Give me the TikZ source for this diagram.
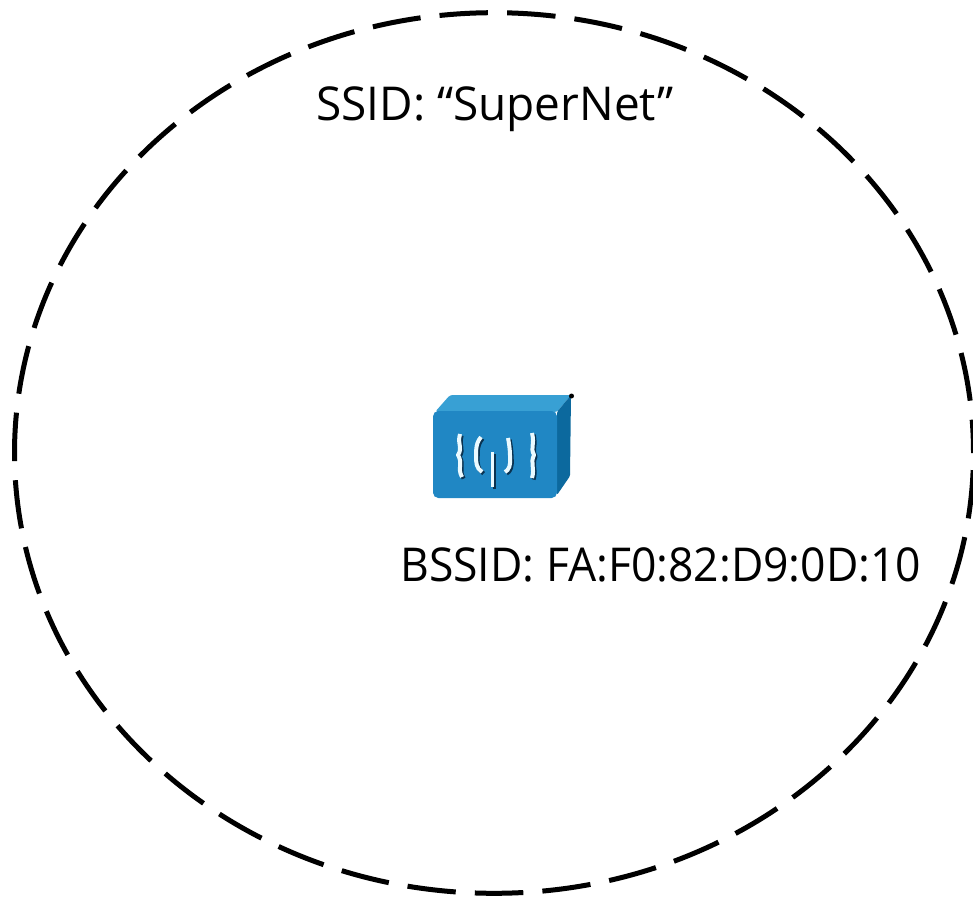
\documentclass[tikz,border=0pt]{standalone}
\usepackage{fontspec}
\setmainfont{Open Sans}
\tikzset{
  cell/.style={line width=3.75pt,dash pattern=on 36.4pt off 14.33pt,dash phase=37.9pt,draw=black},
  lab/.style={inner sep=0pt,anchor=base west,text=black},
  glyph/.style={draw=#1,line width=3pt,line join=round},
  stem/.style={draw=#1,line width=2.4pt}
}
\definecolor{apfront}{RGB}{32,135,196}
\definecolor{aptop}{RGB}{56,160,212}
\definecolor{apside}{RGB}{12,105,158}
\definecolor{apshadow}{RGB}{10,50,80}
\definecolor{apglow}{RGB}{235,250,255}
\newcommand{\apglyphs}[2]{%
  \begin{scope}[shift={(#2,#2)}]
  \draw[glyph=#1] (460,434) .. controls (457,445) and (463,447) .. (458,455) .. controls (463,463) and (457,468) .. (462,477);
  \draw[glyph=#1] (481,437) .. controls (474,445) and (477,455) .. (476,456) .. controls (476,462) and (476,468) .. (482,472);
  \draw[stem=#1] (492.7,452) -- (492.7,487);
  \draw[glyph=#1] (508,438) .. controls (510,448) and (510,455) .. (510,456) .. controls (511,465) and (509,470) .. (505,472);
  \draw[glyph=#1] (532,433) .. controls (535,445) and (530,447) .. (534,455) .. controls (530,463) and (535,468) .. (532,478);
  \end{scope}}
\begin{document}
\begin{tikzpicture}[x=0.75pt,y=-0.75pt]
\useasboundingbox (0,0) rectangle (973,898);
\fill[white] (0,0) rectangle (973,898);
\draw[cell] (494,453) ellipse [x radius=479.5,y radius=440.3];
\node[lab,font=\fontsize{35}{42}\selectfont\addfontfeatures{FakeStretch=0.985}] (ssid) at (316,121) {SSID: “SuperNet”};
\node[lab,font=\fontsize{35}{42}\selectfont\addfontfeatures{FakeStretch=0.953}] (bssid) at (400,581) {BSSID: FA:F0:82:D9:0D:10};
% access point icon
\fill[aptop,rounded corners=2pt] (435,412) -- (450,395) -- (571,395) -- (557,412) -- cycle;
\fill[apside,rounded corners=1pt] (557,412) -- (571,395) -- (570,476) -- (557,495) -- cycle;
\fill[apfront,rounded corners=4pt] (433,411) -- (557,411) -- (557,498) -- (433,498) -- cycle;
\fill[black] (571.5,396) circle (2.5);
\apglyphs{apshadow}{1.6}
\apglyphs{apglow}{0}
\end{tikzpicture}
\end{document}
